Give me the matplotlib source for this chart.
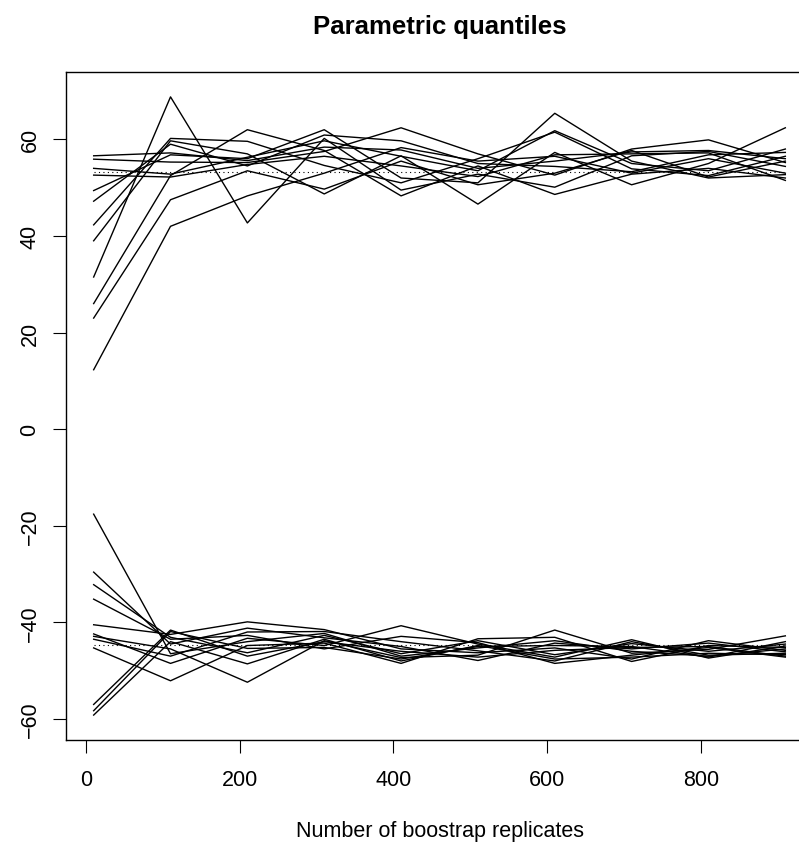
import numpy as np
import matplotlib.pyplot as plt

plt.rcParams['font.family'] = ['Liberation Sans', 'DejaVu Sans']

# Bootstrap replicate counts
n_boot = [10, 110, 210, 310, 410, 510, 610, 710, 810, 910]

# Upper quantile estimates, one list per run
upper = [
    [56.6, 57.2, 55.6, 58.4, 57.8, 54.0, 55.5, 57.4, 57.7, 56.0],
    [55.9, 55.3, 55.2, 57.5, 62.4, 57.0, 52.6, 58.0, 59.9, 55.2],
    [54.0, 52.8, 56.3, 59.7, 56.5, 53.5, 61.8, 55.0, 53.5, 58.0],
    [52.6, 52.2, 54.8, 56.5, 54.5, 52.3, 56.8, 57.0, 57.2, 51.5],
    [49.4, 56.8, 56.0, 62.0, 52.0, 51.0, 65.4, 55.5, 52.0, 52.7],
    [47.2, 59.0, 54.5, 60.9, 59.7, 55.0, 54.4, 53.3, 56.8, 57.3],
    [42.3, 60.2, 59.6, 54.6, 51.0, 56.0, 61.5, 53.9, 52.5, 56.5],
    [39.0, 59.7, 57.0, 48.7, 56.6, 46.6, 57.3, 50.6, 55.0, 62.4],
    [31.5, 68.8, 42.7, 60.2, 49.5, 52.8, 50.1, 56.6, 57.5, 54.4],
    [26.0, 52.5, 62.0, 57.7, 48.3, 54.5, 48.6, 52.8, 54.0, 52.0],
    [23.0, 47.5, 53.5, 49.7, 55.5, 50.6, 53.0, 57.7, 52.2, 55.5],
    [12.3, 42.0, 48.3, 53.0, 58.3, 55.5, 56.5, 53.0, 56.0, 53.0],
]

# Lower quantile estimates
lower = [
    [-17.6, -46.5, -44.0, -42.3, -47.0, -45.3, -43.8, -46.0, -47.0, -45.5],
    [-29.6, -44.5, -41.2, -43.2, -45.0, -47.9, -44.3, -45.5, -44.3, -46.1],
    [-32.2, -43.1, -46.3, -42.7, -46.5, -43.8, -46.7, -44.4, -46.0, -44.5],
    [-35.2, -43.5, -42.7, -45.5, -42.9, -44.2, -48.5, -46.8, -45.2, -47.2],
    [-40.5, -42.5, -39.9, -41.5, -45.5, -46.3, -45.3, -47.6, -43.8, -45.8],
    [-42.4, -48.5, -43.3, -44.8, -40.7, -44.5, -47.2, -43.6, -47.4, -44.9],
    [-42.9, -45.5, -52.4, -43.8, -47.3, -46.8, -41.6, -46.4, -45.6, -42.8],
    [-43.5, -47.0, -42.0, -41.9, -44.0, -45.9, -48.0, -44.0, -46.8, -46.4],
    [-45.3, -52.1, -44.8, -44.3, -48.5, -43.4, -43.1, -48.1, -44.8, -45.2],
    [-57.0, -41.6, -47.0, -44.0, -46.0, -47.2, -45.8, -45.2, -45.0, -47.0],
    [-58.3, -41.9, -45.4, -45.2, -47.6, -45.0, -44.8, -45.0, -47.2, -44.0],
    [-59.2, -44.0, -48.6, -43.5, -48.0, -44.8, -47.6, -47.2, -46.4, -46.7],
]

# True quantiles (dotted reference lines)
true_q = [53.3, -44.6]

W, H = 799, 845
fig = plt.figure(figsize=(W / 100, H / 100), dpi=100)
# plot region runs past the right edge, as in the cropped original
ax = fig.add_axes([66 / W, 1 - 740.7 / H, (813 - 66) / W, (740.7 - 73) / H])

for run in upper + lower:
    ax.plot(n_boot, run, color="black", lw=1.0)
for q in true_q:
    ax.plot([n_boot[0], n_boot[-1]], [q, q], color="black", lw=0.8, ls=(0, (1, 3)))

ax.set_xlim(-26, 946)
ax.set_ylim(-64.3, 73.95)
ax.set_xticks([0, 200, 400, 600, 800])
ax.set_yticks([-60, -40, -20, 0, 20, 40, 60])
ax.tick_params(length=9.4, width=0.8, labelsize=15.5)
ax.tick_params(axis="x", pad=12)
ax.tick_params(axis="y", pad=9)
for lab in ax.get_yticklabels():
    lab.set_rotation(90)
    lab.set_va("center")
for s in ax.spines.values():
    s.set_linewidth(1.0)

fig.text(439.5 / W, 1 - 27 / H, "Parametric quantiles", ha="center", va="center",
         fontsize=18.5, fontweight="bold")
fig.text(439.5 / W, 1 - 832 / H, "Number of boostrap replicates", ha="center", va="center",
         fontsize=15.5)

fig.savefig("out.png", dpi=100)
